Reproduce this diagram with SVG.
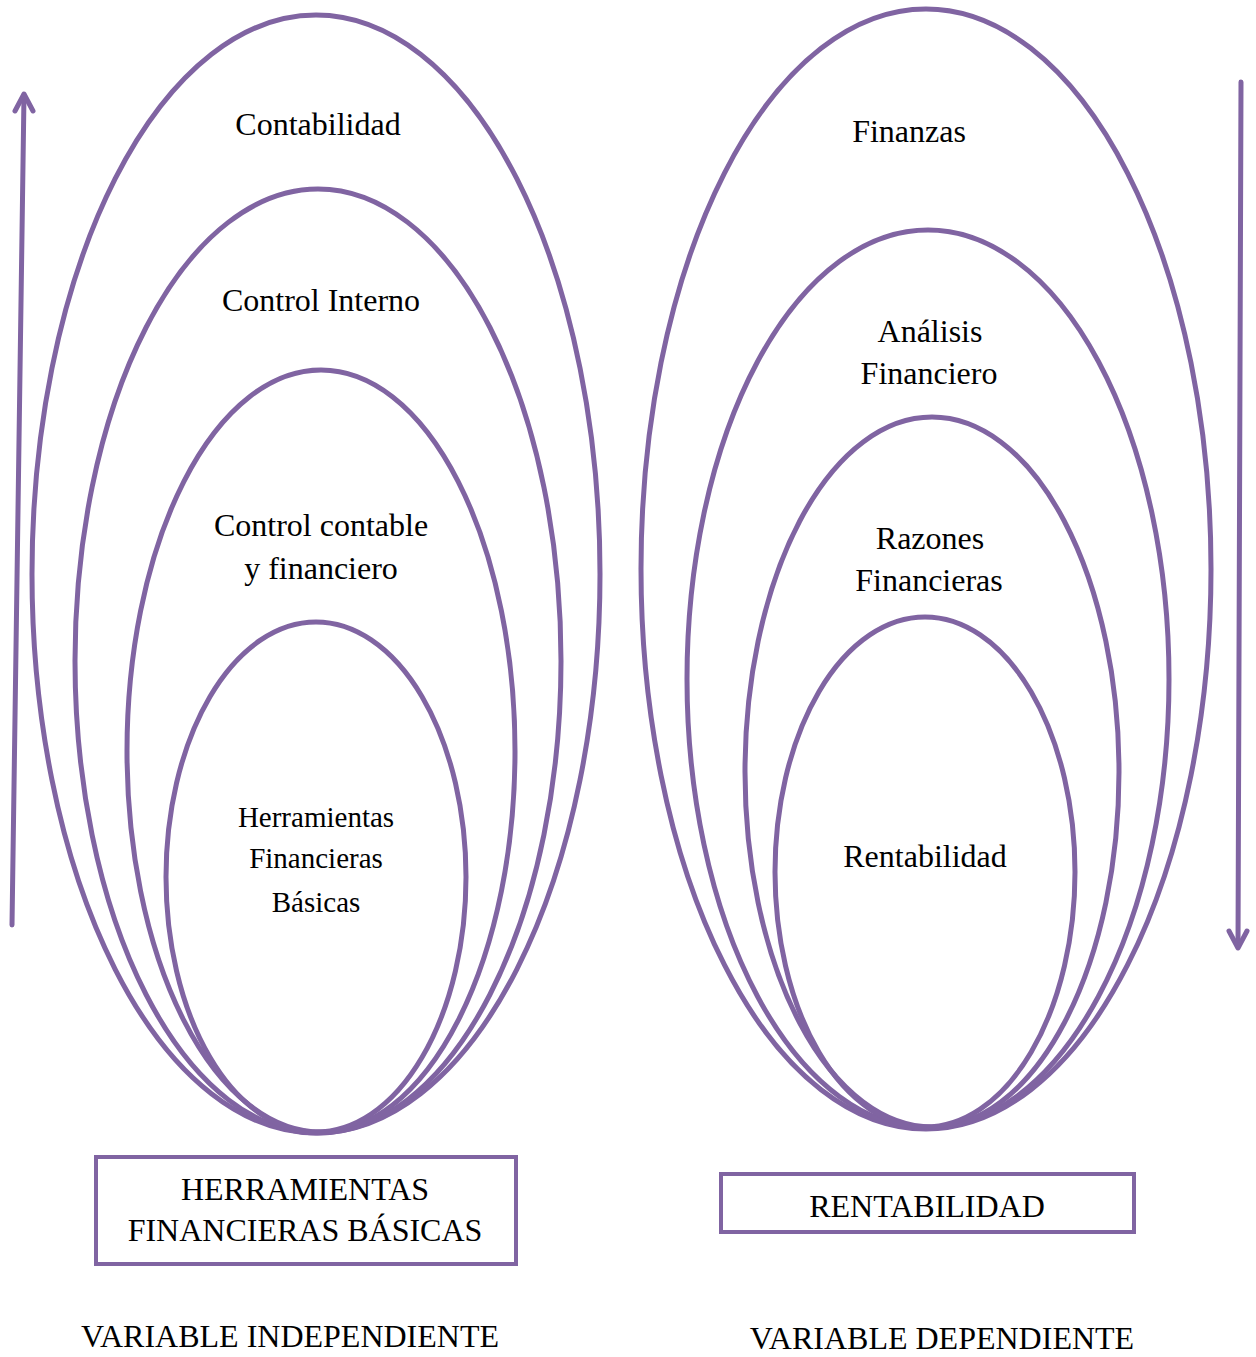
<svg xmlns="http://www.w3.org/2000/svg" width="1256" height="1357" viewBox="0 0 1256 1357">
<style>
.e{fill:none;stroke:#8064A2;stroke-width:5}
.b{fill:#fff;stroke:#8064A2;stroke-width:4}
.t{font-family:"Liberation Serif","Times New Roman",serif;font-size:32px;fill:#000;text-anchor:middle}
.s{font-size:29px}
.a{stroke:#8064A2;stroke-width:5;fill:none;stroke-linecap:round;stroke-linejoin:round}
</style>
<rect width="1256" height="1357" fill="#fff"/>
<g id="left">
<g id="contabilidad"><ellipse class="e" cx="316" cy="574" rx="284" ry="559"/><text class="t" x="318" y="135">Contabilidad</text></g>
<g id="control-interno"><ellipse class="e" cx="318" cy="661" rx="243" ry="472"/><text class="t" x="321" y="311">Control Interno</text></g>
<g id="control-contable"><ellipse class="e" cx="321" cy="751" rx="194" ry="381"/><text class="t" x="321" y="536">Control contable</text><text class="t" x="321" y="579">y financiero</text></g>
<g id="herramientas"><ellipse class="e" cx="316" cy="877" rx="150" ry="255"/><text class="t s" x="316" y="827">Herramientas</text><text class="t s" x="316" y="868">Financieras</text><text class="t s" x="316" y="912">Básicas</text></g>
</g>
<g id="right">
<g id="finanzas"><ellipse class="e" cx="926" cy="569" rx="285" ry="560"/><text class="t" x="909" y="142">Finanzas</text></g>
<g id="analisis"><ellipse class="e" cx="928" cy="679" rx="241" ry="449"/><text class="t" x="930" y="342">Análisis</text><text class="t" x="929" y="384">Financiero</text></g>
<g id="razones"><ellipse class="e" cx="932" cy="772" rx="187" ry="355"/><text class="t" x="930" y="549">Razones</text><text class="t" x="929" y="591">Financieras</text></g>
<g id="rentabilidad"><ellipse class="e" cx="925" cy="872" rx="150" ry="255"/><text class="t" x="925" y="867">Rentabilidad</text></g>
</g>
<g id="connectors">
<path class="a" d="M12,925 L24,95"/>
<path class="a" d="M15,111 L24,94 L33,111"/>
<path class="a" d="M1241,82 L1238,947"/>
<path class="a" d="M1229,931 L1238,948 L1247,931"/>
</g>
<g id="box-herramientas"><rect class="b" x="96" y="1157" width="420" height="107"/><text class="t" x="305" y="1200">HERRAMIENTAS</text><text class="t" x="305" y="1241">FINANCIERAS BÁSICAS</text></g>
<g id="box-rentabilidad"><rect class="b" x="721" y="1174" width="413" height="58"/><text class="t" x="927" y="1217">RENTABILIDAD</text></g>
<g id="labels">
<text class="t" x="290" y="1347">VARIABLE INDEPENDIENTE</text>
<text class="t" x="942" y="1349">VARIABLE DEPENDIENTE</text>
</g>
</svg>
